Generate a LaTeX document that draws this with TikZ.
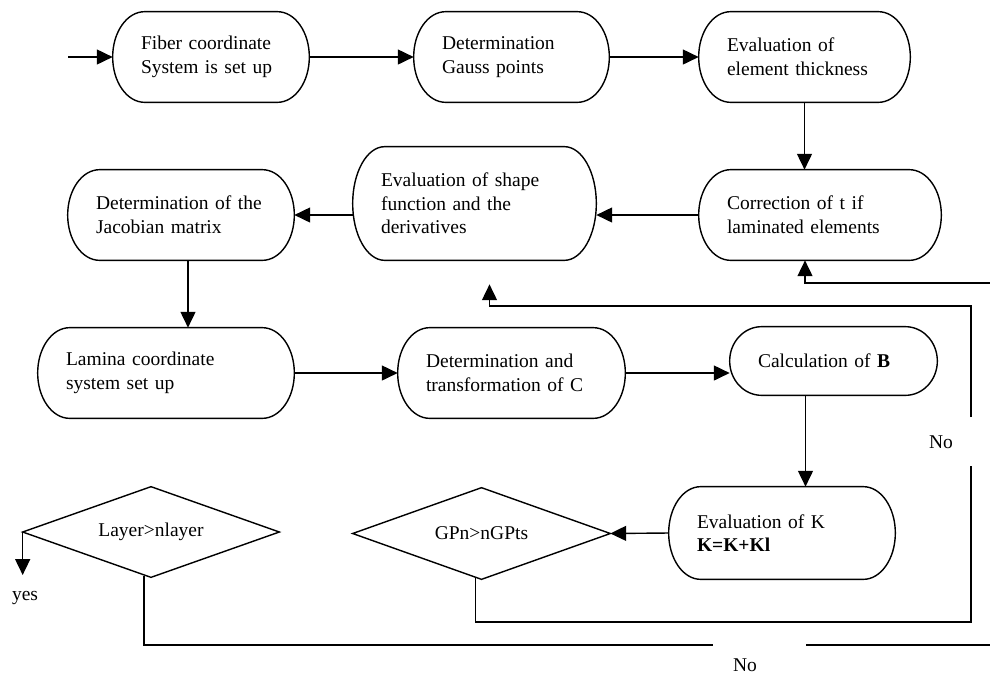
\documentclass[tikz,border=0pt]{standalone}
\usepackage{fontspec}
\setmainfont{Liberation Serif}
\usetikzlibrary{arrows.meta,calc}
\newcommand{\txtfont}{\fontsize{11.1pt}{13.5pt}\selectfont}
\newcommand{\stad}[1]{%
  \draw[conn] let \p1=(#1.north west), \p2=(#1.south east), \n1={(\y1-\y2)/2} in
    (\x1+0.64cm,\y1) -- (\x2-0.64cm,\y1)
    arc[start angle=90, end angle=-90, x radius=0.64cm, y radius=\n1]
    -- (\x1+0.64cm,\y2)
    arc[start angle=270, end angle=90, x radius=0.64cm, y radius=\n1]
    -- cycle;}
\tikzset{
  conn/.style={line width=0.8pt, line join=miter},
  arr/.style={conn, -{Triangle[length=9pt,width=8.5pt]}},
  box/.style n args={3}{inner xsep=0.56cm, inner ysep=0pt, text width=#1,
    minimum width=#2, minimum height=#3, align=left, font=\txtfont},
  dia/.style n args={2}{minimum width=#1, minimum height=#2, inner sep=0pt, font=\txtfont},
  lbl/.style={inner sep=0pt, font=\txtfont}
}
\begin{document}
\begin{tikzpicture}[x=0.02cm,y=-0.02cm]
\useasboundingbox (0,0) rectangle (990,677);

% process boxes
\node[box={2.80cm}{3.92cm}{1.8cm}] (n1) at (211,57) {Fiber coordinate\\System is set up};
\node[box={2.78cm}{3.90cm}{1.8cm}] (n2) at (511.5,57) {Determination\\Gauss points};
\node[box={3.10cm}{4.22cm}{1.8cm}] (n3) at (804.5,57) {Evaluation of\\element thickness};
\node[box={3.72cm}{4.84cm}{1.8cm}] (n4) at (820,215) {Correction of t if\\laminated elements};
\node[box={3.74cm}{4.86cm}{2.26cm}] (n5) at (474.5,203.5) {Evaluation of shape\\function and the\\derivatives};
\node[box={3.40cm}{4.52cm}{1.8cm}] (n6) at (181,215) {Determination of the\\Jacobian matrix};
\node[box={4.00cm}{5.12cm}{1.8cm}] (n7) at (166,373) {Lamina coordinate\\system set up};
\node[box={3.42cm}{4.54cm}{1.8cm}] (n8) at (511.5,373) {Determination and\\transformation of C};
\node[box={3.02cm}{4.14cm}{1.36cm}] (n9) at (833.5,361) {Calculation of \textbf{B}};
\node[box={3.40cm}{4.52cm}{1.84cm}] (n10) at (782,533) {Evaluation of K\\\textbf{K=K+Kl}};
\stad{n1}\stad{n2}\stad{n3}\stad{n4}\stad{n5}
\stad{n6}\stad{n7}\stad{n8}\stad{n9}\stad{n10}

% decisions
\node[dia={5.12cm}{1.8cm}] (d1) at (151,532) {Layer>nlayer};
\node[dia={5.14cm}{1.82cm}] (d2) at (481.5,533.5) {GPn>nGPts};
\draw[conn] (d1.west) -- (d1.north) -- (d1.east) -- (d1.south) -- cycle;
\draw[conn] (d2.west) -- (d2.north) -- (d2.east) -- (d2.south) -- cycle;

% labels
\node[lbl] (yes) at (25,598) {yes};
\node[lbl] (no1) at (941,442) {No};
\node[lbl] (no2) at (745,665) {No};

% coordinates
\coordinate (start) at (68,57);
\coordinate (b6) at ($(n6.south)+(7,0)$);
\coordinate (b9) at ($(n9.south)+(-28,0)$);
\coordinate (b4) at ($(n4.south)+(-15,0)$);
\coordinate (t5) at ($(n5.south)+(15,24)$);
\coordinate (yesend) at ($(d1.west)+(0,43)$);
\coordinate (l0) at ($(d1.south)+(-7,-1)$);
\coordinate (g0) at ($(d2.south)+(-6,-1)$);
\coordinate (gapL) at (713,645);
\coordinate (gapR) at (806,645);
\coordinate (edgeL) at (991,645);
\coordinate (edgeT) at (991,283);
\coordinate (gC) at (971,622);
\coordinate (gA) at (971,466);
\coordinate (gB) at (971,417);
\coordinate (gD) at (971,306);

% connectors
\draw[arr] (start) -- (n1.west);
\draw[arr] (n1.east) -- (n2.west);
\draw[arr] (n2.east) -- (n3.west);
\draw[arr] (n3.south) -- (n3.south |- n4.north);
\draw[arr] (n4.west) -- (n4.west -| n5.east);
\draw[arr] (n6.east -| n5.west) -- (n6.east);
\draw[arr] (b6) -- (b6 |- n7.north);
\draw[arr] (n7.east) -- (n8.west);
\draw[arr] (n8.east) -- (n8.east -| n9.west);
\draw[arr] (b9) -- (b9 |- n10.north);
\draw[arr] (n10.west) -- (d2.east);
\draw[arr] (d1.west) -- (yesend);

% GPn loop
\draw[conn] (g0) |- (gC) -- (gA);
\draw[arr] (gB) -- (gD) -| (t5);

% Layer loop
\draw[conn] (l0) |- (gapL);
\draw[conn] (gapR) -- (edgeL);
\draw[arr] (edgeT) -| (b4);
\end{tikzpicture}
\end{document}
